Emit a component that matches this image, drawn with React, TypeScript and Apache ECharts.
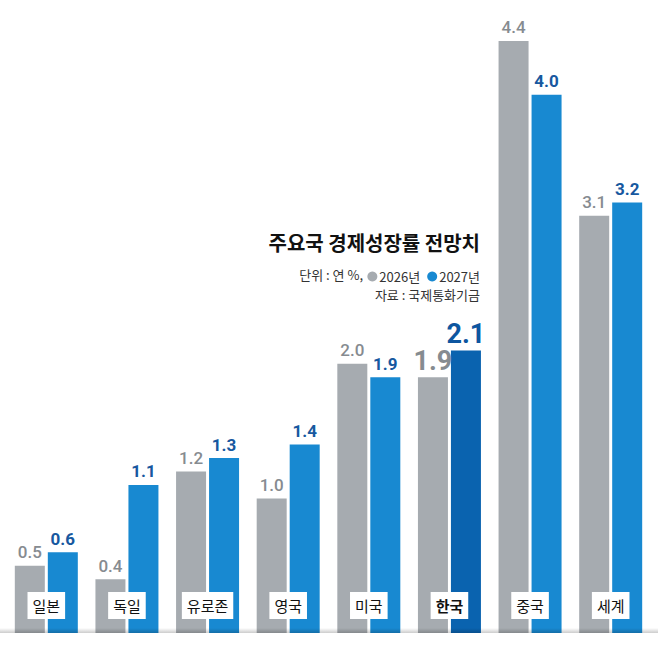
import React, { useEffect, useRef } from "react";
import * as echarts from "echarts";

const categories = ["일본", "독일", "유로존", "영국", "미국", "한국", "중국", "세계"];
const values2026 = [0.5, 0.4, 1.2, 1.0, 2.0, 1.9, 4.4, 3.1];
const values2027 = [0.6, 1.1, 1.3, 1.4, 1.9, 2.1, 4.0, 3.2];
const seriesNames = ["2026년", "2027년"];
const highlight = "한국";

const GRAY = "#a6abb0";
const BLUE = "#1889d1";
const DARKBLUE = "#0a63af";
const GRAY_TEXT = "#868b90";
const BLUE_TEXT = "#17589f";
const NUM_FONT = "Roboto, 'Liberation Sans', sans-serif";
const KR_FONT = "'Noto Sans CJK KR', 'Noto Sans', sans-serif";

export default function App() {
  const ref = useRef<HTMLDivElement>(null);
  useEffect(() => {
    if (!ref.current) return;
    const chart = echarts.init(ref.current, null, { renderer: "svg" });
    const hi = categories.indexOf(highlight);

    const d2026 = values2026.map((v, i) =>
      i === hi ? { value: v, label: { fontSize: 27, fontWeight: "bold", distance: 3 } } : v
    );
    const d2027 = values2027.map((v, i) =>
      i === hi
        ? {
            value: v,
            itemStyle: { color: DARKBLUE },
            label: { fontSize: 27, fontWeight: "bold", color: "#0d56a0", distance: 3 },
          }
        : v
    );

    chart.setOption({
      animation: false,
      grid: { left: 6, right: 7, top: 14, bottom: 17, containLabel: false },
      legend: {
        data: seriesNames.map((n) => ({ name: n, icon: "circle" })),
        right: 178,
        top: 270,
        itemWidth: 10,
        itemHeight: 10,
        itemGap: 7,
        padding: 0,
        selectedMode: false,
        textStyle: { fontSize: 13, color: "#333", fontFamily: KR_FONT, padding: [0, 0, 0, -3] },
      },
      xAxis: {
        type: "category",
        data: categories,
        axisLine: { show: false },
        axisTick: { show: false },
        z: 10,
        axisLabel: {
          margin: -41,
          interval: 0,
          fontSize: 15,
          lineHeight: 15,
          color: "#111",
          fontFamily: KR_FONT,
          backgroundColor: "#fff",
          padding: [6, 5],
          formatter: (v: string) => (v === highlight ? `{b|${v}}` : v),
          rich: {
            b: { fontSize: 15, lineHeight: 15, fontWeight: "bold", color: "#111", fontFamily: KR_FONT },
          },
        },
      },
      yAxis: { type: "value", min: 0, max: 4.6, show: false, splitLine: { show: false } },
      series: [
        {
          name: seriesNames[0],
          type: "bar",
          barWidth: 30,
          barGap: "10%",
          data: d2026,
          itemStyle: { color: GRAY },
          label: {
            show: true,
            position: "top",
            distance: 5,
            fontSize: 17,
            fontWeight: 500,
            color: GRAY_TEXT,
            fontFamily: NUM_FONT,
            formatter: (p: any) => Number(p.value).toFixed(1),
          },
        },
        {
          name: seriesNames[1],
          type: "bar",
          barWidth: 30,
          data: d2027,
          itemStyle: { color: BLUE },
          label: {
            show: true,
            position: "top",
            distance: 5,
            fontSize: 17,
            fontWeight: "bold",
            color: BLUE_TEXT,
            fontFamily: NUM_FONT,
            formatter: (p: any) => Number(p.value).toFixed(1),
          },
        },
      ],
      graphic: [
        {
          type: "text",
          right: 178,
          top: 232,
          style: {
            text: "주요국 경제성장률 전망치",
            fontSize: 20,
            fontWeight: "bold",
            fill: "#111",
            fontFamily: KR_FONT,
          },
        },
        {
          type: "text",
          right: 295,
          top: 268,
          style: { text: "단위 : 연 %,", fontSize: 13, fill: "#333", fontFamily: KR_FONT },
        },
        {
          type: "text",
          right: 178,
          top: 288,
          style: { text: "자료 : 국제통화기금", fontSize: 13, fill: "#333", fontFamily: KR_FONT },
        },
        {
          type: "rect",
          left: 0,
          top: 628,
          z: 100,
          silent: true,
          shape: { width: 658, height: 5 },
          style: {
            fill: new echarts.graphic.LinearGradient(0, 0, 0, 1, [
              { offset: 0, color: "rgba(0,0,0,0)" },
              { offset: 1, color: "rgba(0,0,0,0.2)" },
            ]),
          },
        },
      ],
    });
    return () => chart.dispose();
  }, []);
  return (
    <div
      ref={ref}
      style={{ position: "fixed", left: 0, top: 0, width: 658, height: 650, background: "#fff" }}
    />
  );
}
